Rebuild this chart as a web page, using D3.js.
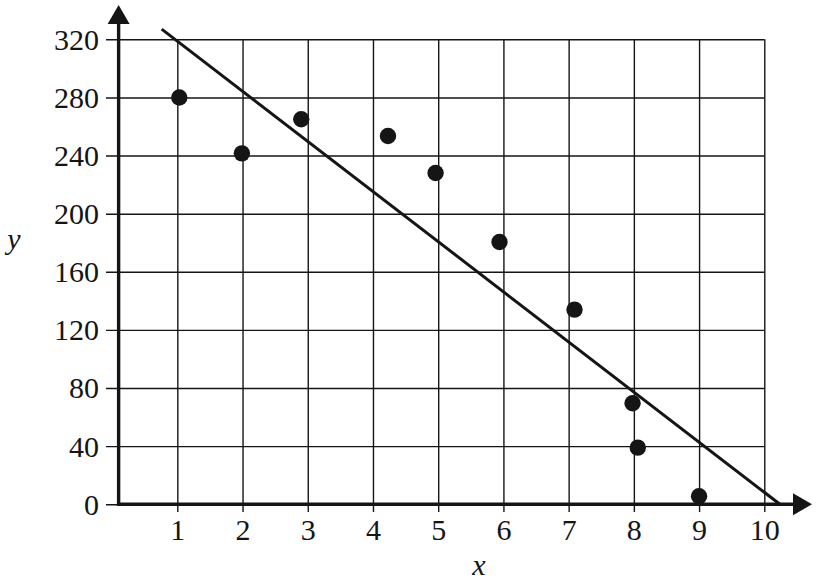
<!DOCTYPE html>
<html>
<head>
<meta charset="utf-8">
<script src="https://cdn.jsdelivr.net/npm/d3@7"></script>
<style>
  body { margin: 0; background: #fff; }
</style>
</head>
<body>
<div id="chart"></div>
<script>
// data
var xTicks = [1, 2, 3, 4, 5, 6, 7, 8, 9, 10];
var yTicks = [0, 40, 80, 120, 160, 200, 240, 280, 320];
var pointX = [1.03, 1.99, 2.90, 4.23, 4.96, 5.94, 7.09, 7.98, 8.06, 9.0];
var pointY = [280, 241.5, 265, 253.5, 228, 180.5, 134, 69.5, 39, 5.5];
var lineX = [0.76, 10.24];   // best fit line ends
var lineY = [327, 0];

var w = 824, h = 580;
var ink = "#151515";
var serif = "'Liberation Serif', 'Times New Roman', Times, serif";

var svg = d3.select("#chart").append("svg")
    .attr("width", w)
    .attr("height", h);

// scales
var x = d3.scaleLinear().domain([0, 10]).range([112.1, 764.3]);
var y = d3.scaleLinear().domain([0, 320]).range([504.3, 39.3]);

var axisX0 = x(0.1);  // where the y axis stands

// grid + tick labels on y
svg.append("g")
    .attr("transform", "translate(106,0)")
    .call(d3.axisLeft(y).tickValues(yTicks).tickSize(-(x(10) - 106)).tickPadding(7))
    .call(function(g) {
        g.attr("font-family", serif);
        g.select(".domain").remove();
        g.selectAll("line").attr("stroke", ink).attr("stroke-width", 1.4);
        g.selectAll("text").attr("font-size", 30).attr("font-family", serif)
            .attr("fill", ink).attr("dy", "0.33em");
    });

// grid + tick labels on x
svg.append("g")
    .attr("transform", "translate(0,512)")
    .call(d3.axisBottom(x).tickValues(xTicks).tickSize(-(512 - y(320))).tickPadding(7))
    .call(function(g) {
        g.attr("font-family", serif);
        g.select(".domain").remove();
        g.selectAll("line").attr("stroke", ink).attr("stroke-width", 1.4);
        g.selectAll("text").attr("font-size", 30).attr("font-family", serif).attr("fill", ink);
    });

// main axes with arrows
svg.append("line")
    .attr("x1", axisX0).attr("y1", y(0) + 1.6)
    .attr("x2", axisX0).attr("y2", 22)
    .attr("stroke", ink).attr("stroke-width", 3.4);
svg.append("path")
    .attr("d", "M" + axisX0 + ",5 L" + (axisX0 + 11) + ",24 L" + (axisX0 - 11) + ",24 Z")
    .attr("fill", ink);

svg.append("line")
    .attr("x1", axisX0 - 1.7).attr("y1", y(0))
    .attr("x2", 795).attr("y2", y(0))
    .attr("stroke", ink).attr("stroke-width", 3.4);
svg.append("path")
    .attr("d", "M812," + y(0) + " L793," + (y(0) - 11) + " L793," + (y(0) + 11) + " Z")
    .attr("fill", ink);

// fitted line
var line = d3.line()
    .x(function(d) { return x(d[0]); })
    .y(function(d) { return y(d[1]); });

svg.append("path")
    .datum(d3.zip(lineX, lineY))
    .attr("d", line)
    .attr("fill", "none")
    .attr("stroke", ink)
    .attr("stroke-width", 3);

// points
svg.selectAll("circle.pt")
    .data(d3.zip(pointX, pointY))
    .enter().append("circle")
    .attr("class", "pt")
    .attr("cx", function(d) { return x(d[0]); })
    .attr("cy", function(d) { return y(d[1]); })
    .attr("r", 8.2)
    .attr("fill", ink);

// axis names
svg.append("text")
    .attr("x", 14).attr("y", 249)
    .attr("text-anchor", "middle")
    .attr("font-family", serif)
    .attr("font-size", 30)
    .attr("font-style", "italic")
    .attr("fill", ink)
    .text("y");

svg.append("text")
    .attr("x", 479).attr("y", 575)
    .attr("text-anchor", "middle")
    .attr("font-family", serif)
    .attr("font-size", 30)
    .attr("font-style", "italic")
    .attr("fill", ink)
    .text("x");
</script>
</body>
</html>
